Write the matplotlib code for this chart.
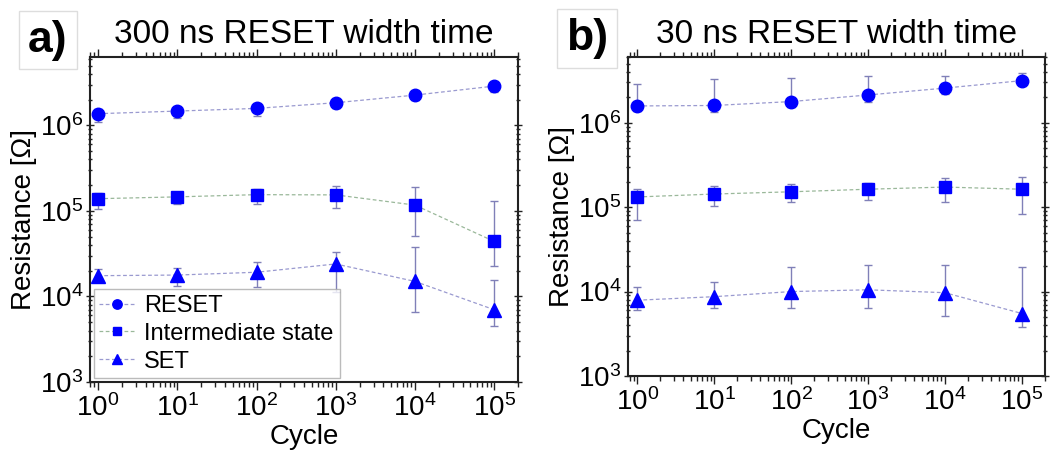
import matplotlib
matplotlib.use("Agg")
import matplotlib.pyplot as plt
from matplotlib.ticker import LogLocator, LogFormatterMathtext, NullFormatter
import numpy as np

plt.rcParams['font.family'] = ['Liberation Sans', 'DejaVu Sans']
plt.rcParams['mathtext.default'] = 'regular'

cycles = [1, 10, 100, 1000, 10000, 100000]

# panel a) 300 ns RESET width
a_reset = [1.37e6, 1.47e6, 1.58e6, 1.84e6, 2.26e6, 2.88e6]
a_reset_lo = [1.10e6, 1.23e6, 1.30e6, 1.58e6, 2.00e6, 2.48e6]
a_reset_hi = [1.55e6, 1.65e6, 1.80e6, 2.05e6, 2.45e6, 3.15e6]
a_inter = [1.39e5, 1.46e5, 1.55e5, 1.54e5, 1.17e5, 4.4e4]
a_inter_lo = [1.05e5, 1.19e5, 1.20e5, 1.07e5, 5.1e4, 2.25e4]
a_inter_hi = [1.60e5, 1.65e5, 1.80e5, 1.98e5, 1.90e5, 1.30e5]
a_set = [1.75e4, 1.78e4, 1.92e4, 2.40e4, 1.50e4, 7.0e3]
a_set_lo = [1.46e4, 1.33e4, 1.30e4, 1.14e4, 6.5e3, 4.5e3]
a_set_hi = [2.10e4, 2.18e4, 2.50e4, 3.27e4, 3.80e4, 1.57e4]

# panel b) 30 ns RESET width
b_reset = [1.58e6, 1.60e6, 1.78e6, 2.13e6, 2.57e6, 3.15e6]
b_reset_lo = [1.38e6, 1.33e6, 1.53e6, 1.76e6, 2.19e6, 2.80e6]
b_reset_hi = [2.90e6, 3.27e6, 3.37e6, 3.55e6, 3.60e6, 3.85e6]
b_inter = [1.32e5, 1.43e5, 1.52e5, 1.63e5, 1.73e5, 1.63e5]
b_inter_lo = [7.0e4, 1.02e5, 1.16e5, 1.23e5, 1.14e5, 8.4e4]
b_inter_hi = [1.63e5, 1.80e5, 1.86e5, 1.94e5, 2.19e5, 2.29e5]
b_set = [7.9e3, 8.7e3, 1.0e4, 1.05e4, 9.7e3, 5.5e3]
b_set_lo = [6.06e3, 6.35e3, 6.35e3, 6.35e3, 5.14e3, 3.8e3]
b_set_hi = [1.12e4, 1.31e4, 1.93e4, 2.05e4, 2.07e4, 1.93e4]

labels = ['RESET', 'Intermediate state', 'SET']
markers = ['o', 's', '^']
msizes = [9, 8, 9.5]
line_colors = ['#9a9ad0', '#9ab89a', '#9a9ad0']
err_color = '#8080b8'


def draw_panel(ax, series, title, ylim, xlim):
    for (y, lo, hi), lab, m, ms, lc in zip(series, labels, markers, msizes, line_colors):
        y = np.array(y)
        yerr = [y - np.array(lo), np.array(hi) - y]
        ax.errorbar(cycles, y, yerr=yerr, fmt='none', ecolor=err_color,
                    elinewidth=1.0, capsize=3, capthick=1.0, zorder=2)
        ax.plot(cycles, y, linestyle=(0, (3, 2)), color=lc, lw=0.9,
                marker=m, ms=ms, mfc='#0000ff', mec='#0000ff', label=lab, zorder=3)
    ax.set_xscale('log')
    ax.set_yscale('log')
    ax.set_xlim(*xlim)
    ax.set_ylim(*ylim)
    for a in (ax.xaxis, ax.yaxis):
        a.set_major_locator(LogLocator(base=10, numticks=10))
        a.set_minor_locator(LogLocator(base=10, subs=np.arange(2, 10), numticks=10))
        a.set_major_formatter(LogFormatterMathtext())
        a.set_minor_formatter(NullFormatter())
    ax.tick_params(which='both', top=True, right=True, labelsize=20, width=1.0,
                   colors='#222222', labelcolor='black')
    ax.tick_params(which='major', length=6)
    ax.tick_params(which='minor', length=3.5)
    ax.tick_params(axis='x', which='both', direction='out', pad=3)
    ax.tick_params(axis='y', which='both', direction='inout', pad=2)
    for s in ax.spines.values():
        s.set_linewidth(1.5)
        s.set_color('#222222')
    ax.set_xlabel('Cycle', fontsize=20, labelpad=1)
    ax.set_ylabel('Resistance [Ω]', fontsize=20, labelpad=2)
    ax.set_title(title, fontsize=24, pad=10)


fig = plt.figure(figsize=(10.51, 4.55), dpi=100)
ax1 = fig.add_axes([0.0856, 0.1604, 0.4073, 0.7143])
ax2 = fig.add_axes([0.5975, 0.1736, 0.3968, 0.7011])

draw_panel(ax1, [(a_reset, a_reset_lo, a_reset_hi), (a_inter, a_inter_lo, a_inter_hi),
                 (a_set, a_set_lo, a_set_hi)],
           '300 ns RESET width time', (1e3, 6.3e6), (0.79, 2.0e5))
draw_panel(ax2, [(b_reset, b_reset_lo, b_reset_hi), (b_inter, b_inter_lo, b_inter_hi),
                 (b_set, b_set_lo, b_set_hi)],
           '30 ns RESET width time', (1e3, 6.0e6), (0.76, 2.0e5))

leg = ax1.legend(loc='lower left', fontsize=17, frameon=True, fancybox=False,
                 edgecolor='#aaaaaa', handlelength=1.5, handletextpad=0.4,
                 borderaxespad=0.15, labelspacing=0.25, borderpad=0.25, markerscale=0.75)
leg.get_frame().set_linewidth(1.0)

# panel tags in light boxes
box = dict(boxstyle='square,pad=0.2', fc='white', ec='#dddddd', lw=1.0)
fig.text(0.0457, 0.912, 'a)', fontsize=32, fontweight='bold', ha='center', va='center', bbox=box)
fig.text(0.5585, 0.915, 'b)', fontsize=32, fontweight='bold', ha='center', va='center', bbox=box)

fig.savefig('out.png', dpi=100)
